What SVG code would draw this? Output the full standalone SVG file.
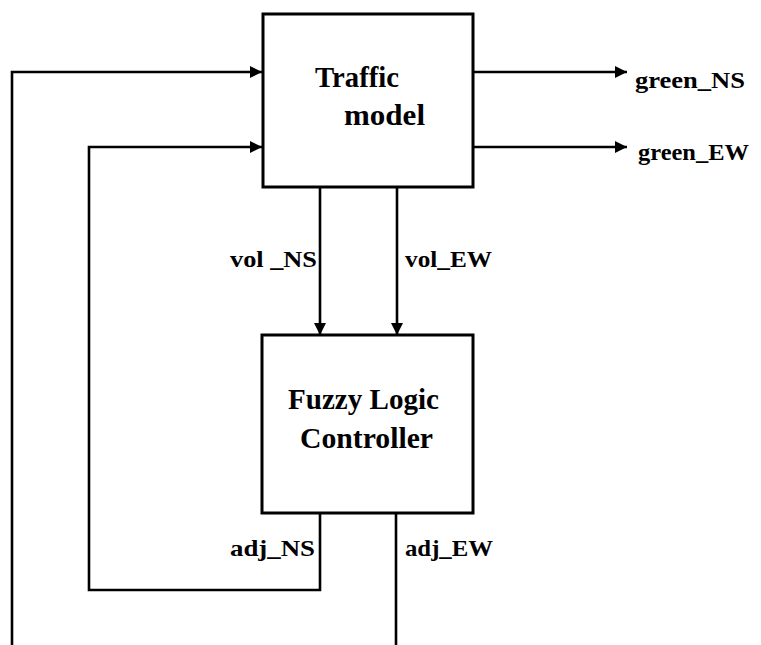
<svg xmlns="http://www.w3.org/2000/svg" width="761" height="645" viewBox="0 0 761 645">
  <style>
    .box { fill: #ffffff; stroke: #000000; stroke-width: 3; }
    .wire { fill: none; stroke: #000000; stroke-width: 2.6; stroke-linejoin: miter; }
    .title { font-family: "Liberation Serif", "Times New Roman", serif; font-weight: bold; font-size: 29px; fill: #000000; }
    .label { font-family: "Liberation Serif", "Times New Roman", serif; font-weight: bold; font-size: 23px; fill: #000000; }
  </style>
  <defs>
    <marker id="arrow" markerUnits="userSpaceOnUse" markerWidth="12" markerHeight="12" refX="12" refY="6" orient="auto">
      <path d="M0,0 L12,6 L0,12 Z" fill="#000000"/>
    </marker>
  </defs>
  <rect width="761" height="645" fill="#ffffff"/>

  <!-- signal lines -->
  <g id="connectors">
    <path class="wire" d="M12,645 V72 H262" marker-end="url(#arrow)"/>
    <path class="wire" d="M320,513 V590 H89 V147 H262" marker-end="url(#arrow)"/>
    <path class="wire" d="M396,513 V645"/>
    <path class="wire" d="M320,187 V335" marker-end="url(#arrow)"/>
    <path class="wire" d="M397,187 V335" marker-end="url(#arrow)"/>
    <path class="wire" d="M473,72 H627" marker-end="url(#arrow)"/>
    <path class="wire" d="M473,147 H627" marker-end="url(#arrow)"/>
    <text class="label" x="230" y="267" textLength="87" lengthAdjust="spacingAndGlyphs">vol _NS</text>
    <text class="label" x="405" y="267" textLength="87" lengthAdjust="spacingAndGlyphs">vol_EW</text>
    <text class="label" x="230" y="556" textLength="85" lengthAdjust="spacingAndGlyphs">adj_NS</text>
    <text class="label" x="405" y="556" textLength="88" lengthAdjust="spacingAndGlyphs">adj_EW</text>
    <text class="label" x="635" y="88" textLength="110" lengthAdjust="spacingAndGlyphs">green_NS</text>
    <text class="label" x="638" y="160" textLength="111" lengthAdjust="spacingAndGlyphs">green_EW</text>
  </g>

  <!-- traffic model block -->
  <g id="traffic-model">
    <rect class="box" x="263" y="14" width="210" height="173"/>
    <text class="title" x="315" y="87" textLength="84" lengthAdjust="spacingAndGlyphs">Traffic</text>
    <text class="title" x="344" y="125" textLength="81" lengthAdjust="spacingAndGlyphs">model</text>
  </g>

  <!-- fuzzy logic controller block -->
  <g id="fuzzy-logic-controller">
    <rect class="box" x="262" y="335" width="211" height="178"/>
    <text class="title" x="288" y="409" textLength="151" lengthAdjust="spacingAndGlyphs">Fuzzy Logic</text>
    <text class="title" x="300" y="448" textLength="133" lengthAdjust="spacingAndGlyphs">Controller</text>
  </g>
</svg>
